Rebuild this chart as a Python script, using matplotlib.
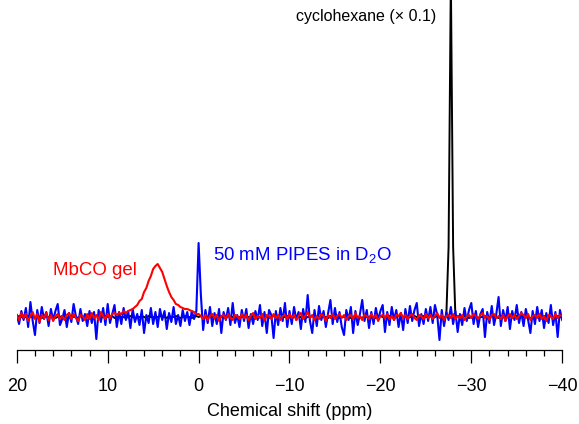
import matplotlib
matplotlib.use("Agg")
import matplotlib.pyplot as plt
import numpy as np

plt.rcParams["font.family"] = ["Liberation Sans", "DejaVu Sans"]
plt.rcParams["mathtext.default"] = "regular"

# chemical shift grid (ppm), 0.25 ppm step from 20 down to -40
ppm_start, ppm_end, n_points = 20.0, -40.0, 241

# 50 mM PIPES in D2O (blue)
pipes = [
    2, -7, 6, -3, 9, -10, 15, -4, -18, 7, -6, 10, -2, 5, -9, 8, -3, 6, 13, -8,
    -2, 7, -10, 4, -5, 13, 1, -7, 8, -4, 3, -9, 6, -6, 5, -22, 7, -5, 9, -8,
    13, -6, 3, 12, -10, 5, -7, 9, -3, 6, -11, 8, -5, 3, -8, 7, -16, 2, -6, 9,
    -7, 5, -10, 8, -3, 6, -12, 4, -5, 10, -7, 2, -9, 7, -4, 5, -8, 6, -2, 6,
    74, 22, -13, 7, -6, 10, -9, 4, -7, 8, -16, 5, -3, 9, -8, 14, -6, 2, -10, 7,
    -4, 8, -11, 3, -7, 6, -3, 12, -9, 5, -16, 7, 2, -21, 6, -8, 9, -4, 14, -10,
    6, -7, 10, -3, 5, -12, 8, -5, 22, -4, -16, 7, -9, 11, -3, 6, -10, 4, 17, -7,
    9, -5, 5, -10, -18, 7, -3, 10, -16, 6, -8, 3, 17, -4, 7, -11, 5, -7, 9, -3,
    6, 12, -15, 5, -8, 10, -3, 7, -10, 4, -13, 8, -6, 11, -4, 7, 14, -9, 3, -7,
    8, -4, 10, -6, 12, 2, -23, 7, -9, 5, -3, 10, -7, 6, -15, 3, -8, 9, -4, 7,
    14, -7, 6, -10, 3, 8, -20, 5, -6, 11, -8, 3, 20, -9, 7, -4, 10, -12, 6, -3,
    12, -6, 5, -9, 8, -3, -16, 6, -7, 10, -4, 7, -11, 4, -6, 12, -8, 5, -20, 7,
    -3,
]

# MbCO gel (red)
mbco = [
    2, -3, 4, -1, 3, -4, 1, 5, -2, 3, -5, 2, -1, 4, -3, 2, -4, 1, 3, -2,
    1, -3, 2, 4, -2, 3, -1, -4, 2, 1, -3, 3, -2, 4, -1, 2, -3, 5, 1, -2,
    3, -1, 3, 4, 2, 4, 3, 6, 4, 6, 7, 8, 10, 12, 16, 18, 25, 29, 36, 41,
    48, 51, 53, 49, 45, 38, 31, 25, 20, 17, 13, 12, 10, 9, 8, 8, 7, 6, 5, 3,
    3, 1, -2, 2, -3, 1, 3, -1, 2, -4, 1, 2, -2, 3, -1, -3, 2, 1, -2, 3,
    -1, 2, -3, 1, 4, -2, 1, -1, 3, -4, 2, 1, -2, 3, -1, 2, -3, 1, 2, -2,
    3, -1, 2, -3, 1, 4, -2, 1, 5, -1, 2, -3, 1, -2, 3, 1, -4, 2, -1, 3,
    -2, 1, 3, -1, 2, -3, 1, 2, -2, 4, -1, 1, -3, 2, 1, -2, 3, -1, 2, -4,
    1, 2, -1, 3, -2, 1, -3, 2, 1, 4, -1, 2, -2, 1, 3, -1, -3, 2, 1, -2,
    3, -1, 2, -2, 1, 4, -1, 2, -3, 1, 2, -1, 3, -2, 1, -1, 2, -3, 1, 2,
    -1, 3, 1, -2, 2, 4, -1, 1, -3, 2, 3, -1, 1, -2, 2, -4, 1, 3, -1, 2,
    -2, 1, 4, 2, -1, 3, -3, 1, 2, -1, 3, -2, 1, -4, 2, 1, -2, 3, -1, 2,
    1,
]

# cyclohexane x 0.1 (black)
cyclohexane = [
    0, 1, 0, -1, 0, 1, 0, 0, -1, 1, 0, -1, 0, 1, 0, 0, 1, -1, 0, 0,
    1, 0, -1, 0, 1, 0, 0, -1, 1, 0, 0, 1, -1, 0, 0, 1, 0, -1, 0, 1,
    0, 0, 1, -1, 0, 1, 0, 0, -1, 0, 1, 0, -1, 0, 0, 1, 0, -1, 1, 0,
    0, -1, 0, 1, 0, 0, -1, 1, 0, 0, 1, 0, -1, 0, 1, 0, 0, -1, 0, 1,
    0, 1, -1, 0, 0, 1, 0, -1, 0, 1, 0, 0, -1, 1, 0, 0, 1, -1, 0, 0,
    1, 0, 0, -1, 1, 0, -1, 0, 1, 0, 0, -1, 0, 1, 0, 1, -1, 0, 0, 1,
    0, -1, 0, 1, 0, 0, 1, -1, 0, 0, 1, 0, -1, 0, 1, 0, 0, -1, 1, 0,
    0, 1, -1, 0, 0, 1, 0, -1, 0, 1, 0, 0, -1, 1, 0, 0, 1, 0, -1, 0,
    1, 0, 0, -1, 1, 0, -1, 0, 1, 0, 0, 1, -1, 0, 0, 1, 0, -1, 0, 1,
    0, 0, 1, -1, 0, 1, 0, 0, -1, 1, 70, 340, 70, 1, 1, -1, 0, 1, 0, -1,
    0, 1, 0, -1, 0, 0, 1, -1, 0, 1, 0, 0, -1, 1, 0, -1, 0, 1, 0, 0,
    1, -1, 0, 0, 1, 0, -1, 0, 1, 0, 0, -1, 1, 0, 0, 1, -1, 0, 1, 0,
    0,
]

ppm = np.linspace(ppm_start, ppm_end, n_points)

fig = plt.figure(figsize=(5.79, 4.24), dpi=100)
ax = fig.add_axes([0.029, 0.1745, 0.942, 0.8255])

ax.plot(ppm, cyclohexane, color="black", lw=1.4)
ax.plot(ppm, pipes, color="#0000ff", lw=1.5)
ax.plot(ppm, mbco, color="#ff0000", lw=1.5)

ax.set_xlim(20, -40)
ax.set_ylim(-33, 317)

for s in ["top", "left", "right"]:
    ax.spines[s].set_visible(False)
ax.spines["bottom"].set_linewidth(0.9)
ax.set_yticks([])
ax.set_xticks(np.arange(20, -41, -10))
ax.set_xticks(np.arange(20, -41, -2), minor=True)
ax.set_xticklabels(["20", "10", "0", "\u221210", "\u221220", "\u221230", "\u221240"])
ax.tick_params(axis="x", which="major", length=9, width=0.9, pad=11, labelsize=13)
ax.tick_params(axis="x", which="minor", length=4.5, width=0.9)
ax.set_xlabel("Chemical shift (ppm)", fontsize=13, labelpad=6)

ax.text(-26.1, 301, "cyclohexane (\u00d7 0.1)", color="black", fontsize=11.5,
        ha="right", va="center", clip_on=False)
ax.text(-1.6, 62, "50 mM PIPES in D$_2$O", color="#0000ff", fontsize=13.4,
        ha="left", va="center")
ax.text(16.0, 47, "MbCO gel", color="#ff0000", fontsize=13.4,
        ha="left", va="center")

fig.savefig("out.png", dpi=100)
